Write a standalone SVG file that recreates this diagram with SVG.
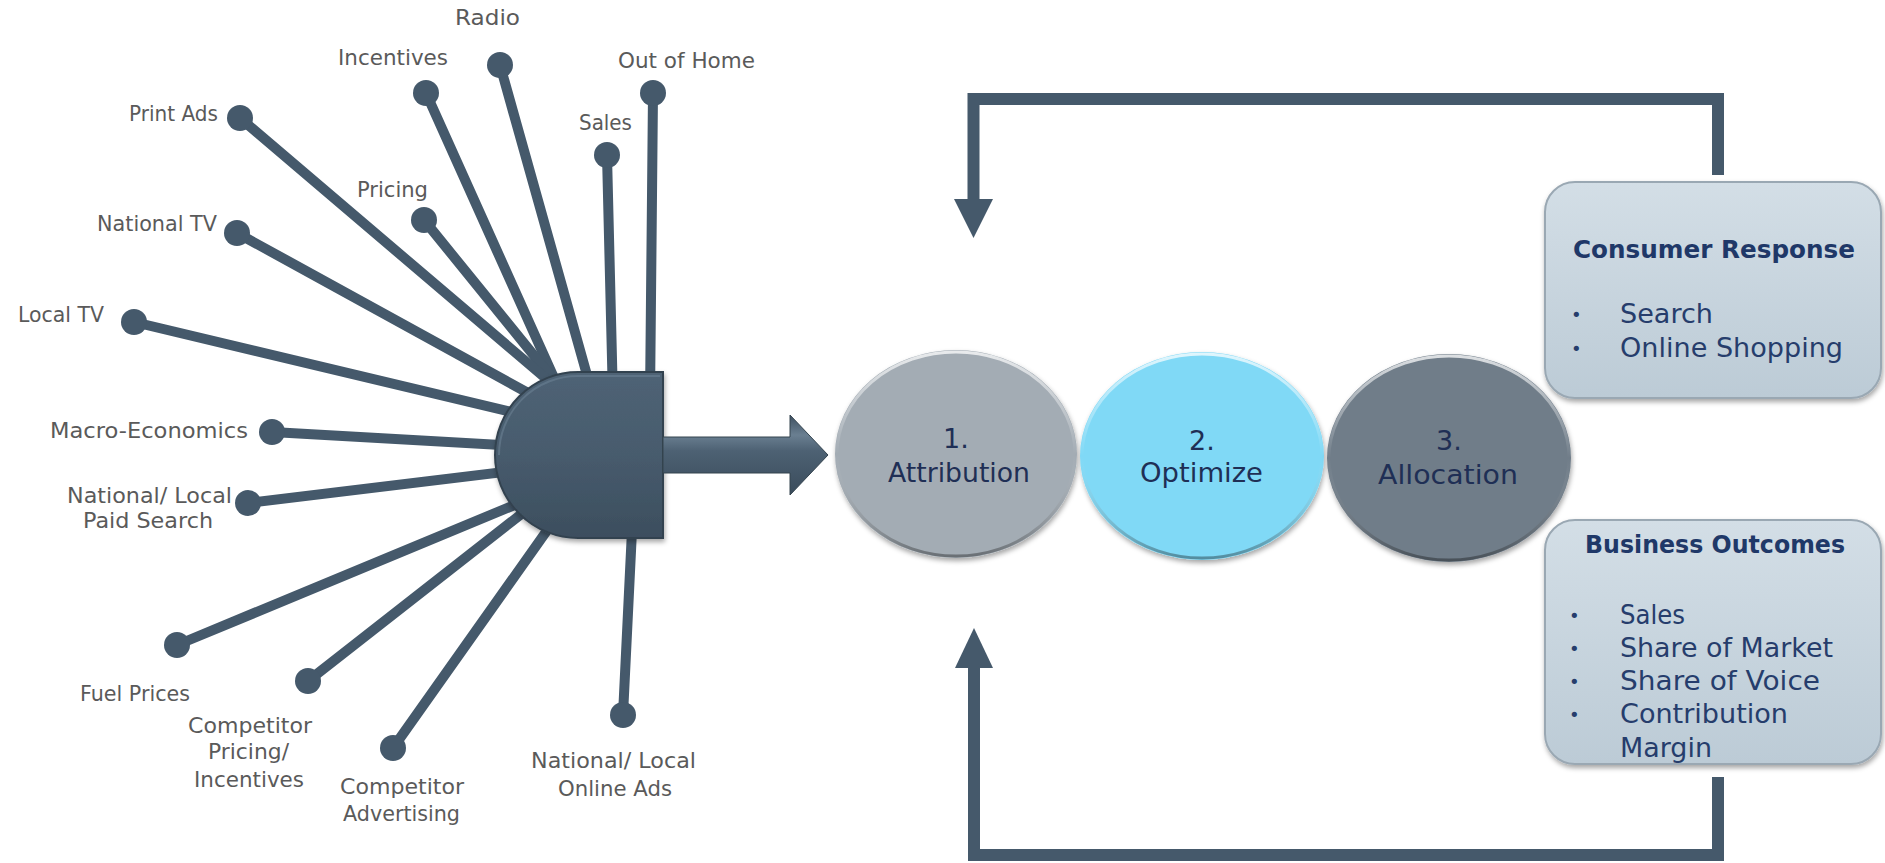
<svg xmlns="http://www.w3.org/2000/svg" width="1885" height="863" viewBox="0 0 1885 863">
<defs>
<style>
.lbl{font-family:"DejaVu Sans","Liberation Sans",sans-serif;font-size:21px;fill:#5a5a5a}
.spoke{stroke:#45596b;stroke-width:10;stroke-linecap:round;fill:none}
.dot{fill:#45596b}
.fb{fill:none;stroke:#45596b;stroke-width:12;stroke-linejoin:miter}
.head{fill:#45596b}
.step{font-family:"DejaVu Sans","Liberation Sans",sans-serif;font-size:27px;fill:#1f2f55}
.ttl{font-family:"DejaVu Sans","Liberation Sans",sans-serif;font-weight:bold;font-size:25px;fill:#1f3868}
.bul{font-family:"DejaVu Sans","Liberation Sans",sans-serif;font-size:26px;fill:#263d6c}
.dotb{font-family:"DejaVu Sans","Liberation Sans",sans-serif;font-size:18px;fill:#263d6c}
</style>
<filter id="sh" x="-10%" y="-10%" width="120%" height="125%">
<feDropShadow dx="1" dy="3" stdDeviation="2.5" flood-color="#000" flood-opacity="0.35"/>
</filter>
<linearGradient id="hubG" x1="0" y1="0" x2="0" y2="1">
<stop offset="0" stop-color="#4f6375"/><stop offset="0.5" stop-color="#475b6d"/><stop offset="1" stop-color="#3c4e5e"/>
</linearGradient>
<linearGradient id="arrG" x1="0" y1="0" x2="0" y2="1">
<stop offset="0" stop-color="#3e5061"/><stop offset="0.25" stop-color="#6a7f91"/><stop offset="0.45" stop-color="#4d6173"/><stop offset="1" stop-color="#3a4b5b"/>
</linearGradient>
<linearGradient id="rimG" x1="0" y1="0" x2="0" y2="1">
<stop offset="0" stop-color="#ffffff" stop-opacity="0.75"/><stop offset="0.5" stop-color="#ffffff" stop-opacity="0"/><stop offset="1" stop-color="#000000" stop-opacity="0.35"/>
</linearGradient>
<linearGradient id="boxG" x1="0" y1="0" x2="0" y2="1">
<stop offset="0" stop-color="#d3dee6"/><stop offset="1" stop-color="#bccbd6"/>
</linearGradient>
</defs>
<rect width="1885" height="863" fill="#ffffff"/>

<g id="connectors">
<g id="spokes">
<line class="spoke" x1="653" y1="93" x2="650" y2="400"/>
<line class="spoke" x1="607" y1="155" x2="613" y2="400"/>
<line class="spoke" x1="500" y1="65" x2="594" y2="400"/>
<line class="spoke" x1="426" y1="93" x2="564" y2="400"/>
<line class="spoke" x1="424" y1="220" x2="570" y2="400"/>
<line class="spoke" x1="240" y1="118" x2="570" y2="399"/>
<line class="spoke" x1="237" y1="233" x2="570" y2="416"/>
<line class="spoke" x1="134" y1="322" x2="570" y2="426"/>
<line class="spoke" x1="272" y1="432" x2="570" y2="449"/>
<line class="spoke" x1="248" y1="503" x2="570" y2="464"/>
<line class="spoke" x1="177" y1="645" x2="570" y2="482"/>
<line class="spoke" x1="308" y1="681" x2="570" y2="476"/>
<line class="spoke" x1="393" y1="748" x2="570" y2="498"/>
<line class="spoke" x1="623" y1="715" x2="633" y2="510"/>
</g>
<g id="feedback">
<path class="fb" d="M1718 175 V99 H973.5 V200"/>
<polygon class="head" points="954,199 993,199 973.5,238"/>
<path class="fb" d="M1718 777 V855 H974 V667"/>
<polygon class="head" points="955,668 993,668 974,628"/>
</g>
</g>

<g id="dots">
<circle class="dot" cx="653" cy="93" r="13"/>
<circle class="dot" cx="607" cy="155" r="13"/>
<circle class="dot" cx="500" cy="65" r="13"/>
<circle class="dot" cx="426" cy="93" r="13"/>
<circle class="dot" cx="424" cy="220" r="13"/>
<circle class="dot" cx="240" cy="118" r="13"/>
<circle class="dot" cx="237" cy="233" r="13"/>
<circle class="dot" cx="134" cy="322" r="13"/>
<circle class="dot" cx="272" cy="432" r="13"/>
<circle class="dot" cx="248" cy="503" r="13"/>
<circle class="dot" cx="177" cy="645" r="13"/>
<circle class="dot" cx="308" cy="681" r="13"/>
<circle class="dot" cx="393" cy="748" r="13"/>
<circle class="dot" cx="623" cy="715" r="13"/>
</g>

<g id="labels">
<text class="lbl" x="455" y="25" textLength="65" lengthAdjust="spacingAndGlyphs">Radio</text>
<text class="lbl" x="338" y="65" textLength="110" lengthAdjust="spacingAndGlyphs">Incentives</text>
<text class="lbl" x="618" y="68" textLength="137" lengthAdjust="spacingAndGlyphs">Out of Home</text>
<text class="lbl" x="579" y="130" textLength="53" lengthAdjust="spacingAndGlyphs">Sales</text>
<text class="lbl" x="129" y="121" textLength="89" lengthAdjust="spacingAndGlyphs">Print Ads</text>
<text class="lbl" x="357" y="197" textLength="71" lengthAdjust="spacingAndGlyphs">Pricing</text>
<text class="lbl" x="97" y="231" textLength="120" lengthAdjust="spacingAndGlyphs">National TV</text>
<text class="lbl" x="18" y="322" textLength="86" lengthAdjust="spacingAndGlyphs">Local TV</text>
<text class="lbl" x="50" y="438" textLength="198" lengthAdjust="spacingAndGlyphs">Macro-Economics</text>
<text class="lbl" x="67" y="503" textLength="165" lengthAdjust="spacingAndGlyphs">National/ Local</text>
<text class="lbl" x="83" y="528" textLength="130" lengthAdjust="spacingAndGlyphs">Paid Search</text>
<text class="lbl" x="80" y="701" textLength="110" lengthAdjust="spacingAndGlyphs">Fuel Prices</text>
<text class="lbl" x="188" y="733" textLength="124" lengthAdjust="spacingAndGlyphs">Competitor</text>
<text class="lbl" x="208" y="759" textLength="81" lengthAdjust="spacingAndGlyphs">Pricing/</text>
<text class="lbl" x="194" y="787" textLength="110" lengthAdjust="spacingAndGlyphs">Incentives</text>
<text class="lbl" x="340" y="794" textLength="124" lengthAdjust="spacingAndGlyphs">Competitor</text>
<text class="lbl" x="343" y="821" textLength="117" lengthAdjust="spacingAndGlyphs">Advertising</text>
<text class="lbl" x="531" y="768" textLength="165" lengthAdjust="spacingAndGlyphs">National/ Local</text>
<text class="lbl" x="558" y="796" textLength="114" lengthAdjust="spacingAndGlyphs">Online Ads</text>
</g>

<g id="hub">
<path d="M663 372 H578 A83 83 0 0 0 578 538 H663 Z" fill="url(#hubG)" stroke="#33424f" stroke-width="2" filter="url(#sh)"/>
<path d="M660 376 H578 A79 79 0 0 0 499 455" fill="none" stroke="#6b8092" stroke-width="2" opacity="0.6"/>
</g>

<g id="hub-arrow">
<path d="M663 437 H790 V415 L828 455 L790 495 V473 H663 Z" fill="url(#arrG)" stroke="#34444f" stroke-width="1"/>
</g>

<g id="step-attribution">
<ellipse cx="956" cy="454" rx="121" ry="104" fill="#a3acb4" filter="url(#sh)"/>
<ellipse cx="956" cy="454" rx="119" ry="102" fill="none" stroke="url(#rimG)" stroke-width="3"/>
<text class="step" x="956" y="448" text-anchor="middle">1.</text>
<text class="step" x="888" y="482" textLength="142" lengthAdjust="spacingAndGlyphs">Attribution</text>
</g>

<g id="step-optimize">
<ellipse cx="1202" cy="456" rx="122" ry="104" fill="#80d9f6" filter="url(#sh)"/>
<ellipse cx="1202" cy="456" rx="120" ry="102" fill="none" stroke="url(#rimG)" stroke-width="3"/>
<text class="step" x="1202" y="450" text-anchor="middle">2.</text>
<text class="step" x="1140" y="482" textLength="123" lengthAdjust="spacingAndGlyphs">Optimize</text>
</g>

<g id="step-allocation">
<ellipse cx="1449" cy="458" rx="122" ry="104" fill="#707d89" filter="url(#sh)"/>
<ellipse cx="1449" cy="458" rx="120" ry="102" fill="none" stroke="url(#rimG)" stroke-width="3"/>
<text class="step" x="1449" y="450" text-anchor="middle">3.</text>
<text class="step" x="1378" y="484" textLength="140" lengthAdjust="spacingAndGlyphs">Allocation</text>
</g>

<g id="consumer-response">
<rect x="1545" y="182" width="336" height="216" rx="30" fill="url(#boxG)" stroke="#9aa8b3" stroke-width="2" filter="url(#sh)"/>
<text class="ttl" x="1573" y="258" textLength="282" lengthAdjust="spacingAndGlyphs">Consumer Response</text>
<text class="dotb" x="1571" y="321">•</text>
<text class="bul" x="1620" y="323" textLength="93" lengthAdjust="spacingAndGlyphs">Search</text>
<text class="dotb" x="1571" y="355">•</text>
<text class="bul" x="1620" y="357" textLength="223" lengthAdjust="spacingAndGlyphs">Online Shopping</text>
</g>

<g id="business-outcomes">
<rect x="1545" y="520" width="336" height="244" rx="30" fill="url(#boxG)" stroke="#9aa8b3" stroke-width="2" filter="url(#sh)"/>
<text class="ttl" x="1585" y="553" textLength="260" lengthAdjust="spacingAndGlyphs">Business Outcomes</text>
<text class="dotb" x="1569" y="622">•</text>
<text class="bul" x="1620" y="624" textLength="65" lengthAdjust="spacingAndGlyphs">Sales</text>
<text class="dotb" x="1569" y="655">•</text>
<text class="bul" x="1620" y="657" textLength="213" lengthAdjust="spacingAndGlyphs">Share of Market</text>
<text class="dotb" x="1569" y="688">•</text>
<text class="bul" x="1620" y="690" textLength="200" lengthAdjust="spacingAndGlyphs">Share of Voice</text>
<text class="dotb" x="1569" y="721">•</text>
<text class="bul" x="1620" y="723" textLength="168" lengthAdjust="spacingAndGlyphs">Contribution</text>
<text class="bul" x="1620" y="757" textLength="92" lengthAdjust="spacingAndGlyphs">Margin</text>
</g>
</svg>
